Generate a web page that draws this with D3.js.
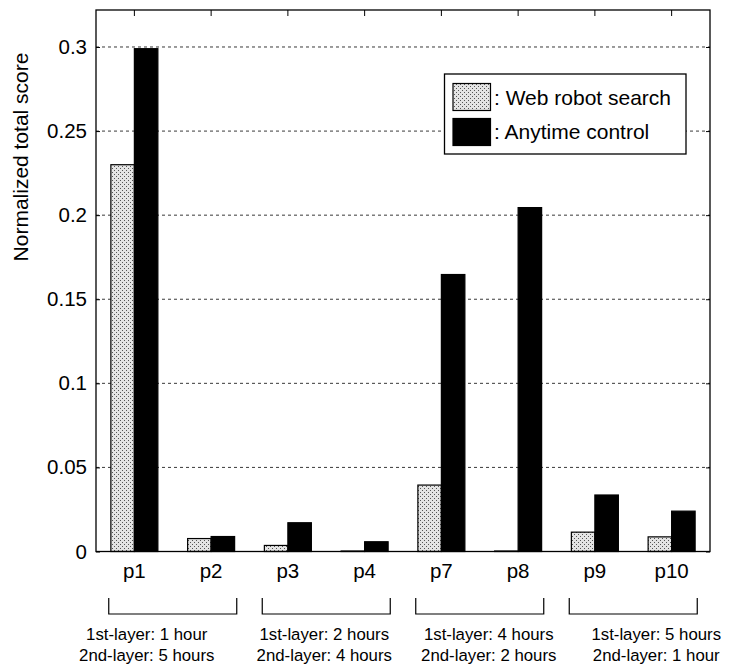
<!DOCTYPE html>
<html>
<head>
<meta charset="utf-8">
<script src="https://cdn.jsdelivr.net/npm/d3@7"></script>
<style>
  body { margin: 0; background: #fff; }
  text { font-family: "Liberation Sans", Arial, Helvetica, sans-serif; fill: #000; }
</style>
</head>
<body>
<script>
  // data
  const categories = ["p1", "p2", "p3", "p4", "p7", "p8", "p9", "p10"];
  const webRobot = [0.230, 0.0077, 0.0036, 0.0003, 0.0395, 0.0003, 0.0115, 0.0087];
  const anytime  = [0.299, 0.0089, 0.0171, 0.0058, 0.1647, 0.2045, 0.0336, 0.0240];
  const seriesNames = [": Web robot search", ": Anytime control"];
  const yTicks = [0, 0.05, 0.1, 0.15, 0.2, 0.25, 0.3];
  const groupNotes = [
    ["1st-layer: 1 hour", "2nd-layer: 5 hours"],
    ["1st-layer: 2 hours", "2nd-layer: 4 hours"],
    ["1st-layer: 4 hours", "2nd-layer: 2 hours"],
    ["1st-layer: 5 hours", "2nd-layer: 1 hour"]
  ];

  const w = 733, h = 665;
  const pLeft = 96, pRight = 710, pTop = 10, pBottom = 551.5;
  const noteShift = [-26, -2, 9, 23];   // hand placement of the notes

  const svg = d3.select("body").append("svg")
      .attr("width", w)
      .attr("height", h);

  // stipple fill for the first series
  const pat = svg.append("defs").append("pattern")
      .attr("id", "stipple")
      .attr("patternUnits", "userSpaceOnUse")
      .attr("width", 4).attr("height", 4);
  pat.append("rect").attr("width", 4).attr("height", 4).attr("fill", "#e4e4e4");
  pat.append("rect").attr("x", 0).attr("y", 0).attr("width", 1).attr("height", 1).attr("fill", "#555");
  pat.append("rect").attr("x", 2).attr("y", 2).attr("width", 1).attr("height", 1).attr("fill", "#555");

  const x = d3.scaleBand()
      .domain(categories)
      .range([pLeft, pRight]);

  const barW = 23.5;
  const xs = d3.scaleOrdinal()
      .domain([0, 1])
      .range([-barW, 0]);

  const y = d3.scaleLinear()
      .domain([0, 0.322])
      .range([pBottom, pTop]);

  // dashed grid
  svg.append("g")
    .selectAll("line")
    .data(yTicks.filter(d => d > 0))
    .enter()
    .append("line")
      .attr("x1", pLeft).attr("x2", pRight)
      .attr("y1", d => y(d)).attr("y2", d => y(d))
      .attr("stroke", "#222")
      .attr("stroke-width", 0.9)
      .attr("stroke-dasharray", "3,3");

  // bars
  const rows = categories.map((c, i) => ({ c, v: [webRobot[i], anytime[i]] }));
  svg.append("g")
    .selectAll("g")
    .data(rows)
    .enter()
    .append("g")
    .selectAll("rect")
    .data(d => d.v.map((v, k) => ({ c: d.c, v, k })))
    .enter()
    .append("rect")
      .attr("x", d => x(d.c) + x.bandwidth() / 2 + xs(d.k))
      .attr("y", d => y(d.v))
      .attr("width", barW)
      .attr("height", d => y(0) - y(d.v))
      .attr("fill", d => d.k === 0 ? "url(#stipple)" : "#000")
      .attr("stroke", "#000")
      .attr("stroke-width", 1.2);

  // y axis
  const yAxis = svg.append("g")
      .attr("transform", `translate(${pLeft},0)`)
      .call(d3.axisLeft(y).tickValues(yTicks).tickSize(-4).tickPadding(9)
        .tickFormat(d => d3.format("~g")(d)));
  yAxis.select(".domain").remove();
  yAxis.selectAll("text").attr("font-size", 20.5).attr("font-family", "Liberation Sans, Arial, sans-serif");

  const yAxisR = svg.append("g")
      .attr("transform", `translate(${pRight},0)`)
      .call(d3.axisRight(y).tickValues(yTicks).tickSize(-4).tickFormat(""));
  yAxisR.select(".domain").remove();

  // x axis
  const xAxis = svg.append("g")
      .attr("transform", `translate(0,${pBottom})`)
      .call(d3.axisBottom(x).tickSize(0).tickPadding(26.5));
  xAxis.select(".domain").remove();
  xAxis.selectAll("text").attr("font-size", 20.5).attr("font-family", "Liberation Sans, Arial, sans-serif")
      .attr("dy", 0);

  const xTop = svg.append("g")
      .attr("transform", `translate(0,${pTop})`)
      .call(d3.axisTop(x).tickSize(-6).tickFormat(""));
  xTop.select(".domain").remove();

  // frame
  svg.append("rect")
      .attr("x", pLeft).attr("y", pTop)
      .attr("width", pRight - pLeft).attr("height", pBottom - pTop)
      .attr("fill", "none")
      .attr("stroke", "#000")
      .attr("stroke-width", 1.3);

  // y label
  svg.append("text")
      .attr("transform", "translate(28,157) rotate(-90)")
      .attr("text-anchor", "middle")
      .attr("font-size", 21)
      .text("Normalized total score");

  // legend
  const lg = svg.append("g");
  lg.append("rect")
      .attr("x", 444.5).attr("y", 74)
      .attr("width", 241.5).attr("height", 80)
      .attr("fill", "#fff")
      .attr("stroke", "#000")
      .attr("stroke-width", 1.3);
  seriesNames.forEach((name, i) => {
    lg.append("rect")
        .attr("x", 453).attr("y", 83.5 + i * 35)
        .attr("width", 37.5).attr("height", 27)
        .attr("fill", i === 0 ? "url(#stipple)" : "#000")
        .attr("stroke", "#000")
        .attr("stroke-width", 1.2);
    lg.append("text")
        .attr("x", 494).attr("y", 104.5 + i * 34.5)
        .attr("font-size", 21)
        .text(name);
  });

  // group brackets and notes
  const groups = groupNotes.map((n, g) => ({
    n, g,
    cx: (x(categories[2 * g]) + x(categories[2 * g + 1]) + x.bandwidth()) / 2
  }));
  const bk = svg.append("g").selectAll("g")
    .data(groups)
    .enter()
    .append("g");
  bk.append("path")
      .attr("d", d => `M${d.cx - 64},598V614H${d.cx + 64}V598`)
      .attr("fill", "none")
      .attr("stroke", "#000")
      .attr("stroke-width", 1.2);
  bk.selectAll("text")
    .data(d => d.n.map((t, j) => ({ t, j, cx: d.cx + noteShift[d.g] })))
    .enter()
    .append("text")
      .attr("x", d => d.cx)
      .attr("y", d => 640 + d.j * 20.5)
      .attr("text-anchor", "middle")
      .attr("font-size", 16.8)
      .text(d => d.t);
</script>
</body>
</html>
